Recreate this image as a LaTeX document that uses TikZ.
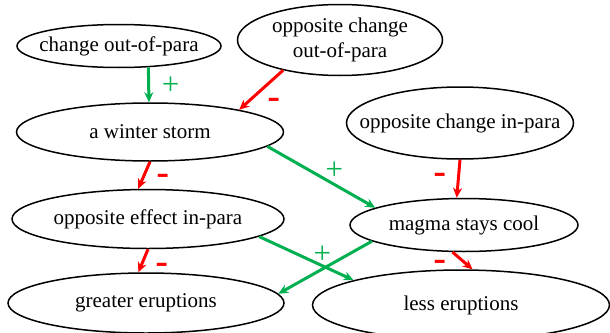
\documentclass[tikz,border=0pt]{standalone}
\usepackage{fontspec}
\setmainfont{Liberation Serif}
\setsansfont{Liberation Sans}
\usepackage{tikz}
\usetikzlibrary{shapes.geometric, arrows.meta}
\definecolor{posgreen}{RGB}{0,176,80}
\definecolor{negred}{RGB}{255,0,0}

\begin{document}
\begin{tikzpicture}[x=1pt,y=-1pt,->,>={Stealth[length=10pt,width=9pt]},
                    main node/.style={ellipse,draw,-,line width=1.5pt,inner xsep=-3em,inner ysep=0pt,
                                      align=center,font=\fontsize{21}{25}\selectfont},
                    pos edge/.style={draw=posgreen,line width=3pt},
                    neg edge/.style={draw=negred,line width=3pt},
                    plus/.style={text=posgreen,font=\fontsize{31}{31}\selectfont,inner sep=0pt},
                    minus/.style={text=negred,font=\fontsize{40}{40}\sffamily,inner sep=0pt}]

  \useasboundingbox (0,0) rectangle (610,332);

  \node[main node,minimum width=204pt,minimum height=43pt] (coop) at (119,46) {change out-of-para};
  \node[main node,minimum width=205pt,minimum height=71pt] (ocoop) at (340,40) {opposite change\\out-of-para};
  \node[main node,minimum width=267pt,minimum height=58pt] (ws) at (150,132) {a winter storm};
  \node[main node,minimum width=227pt,minimum height=72pt] (ocip) at (460,123) {opposite change in-para};
  \node[main node,minimum width=272pt,minimum height=59pt] (oeip) at (148,219) {opposite effect in-para};
  \node[main node,minimum width=228pt,minimum height=53pt] (msc) at (464,225) {magma stays cool};
  \node[main node,minimum width=276pt,minimum height=60pt] (ge) at (146,303) {greater eruptions};
  \node[main node,minimum width=297pt,minimum height=70pt] (le) at (461,305) {less eruptions};

  % + and - sit beside each arrow
  \path
    (coop.-36) edge[pos edge] node[plus,xshift=22pt,yshift=-1pt] {+} (ws.92)
    (ocoop.208) edge[neg edge] node[minus,xshift=13pt,yshift=-14pt] {-} (ws.14)
    (ws.-90) edge[neg edge] node[minus,xshift=19pt,yshift=-5pt] {-} (oeip.108)
    (ws.-7) edge[pos edge] node[plus,xshift=13pt,yshift=6pt] {+} (msc.169)
    (ocip.-90) edge[neg edge] node[minus,xshift=-18pt,yshift=-1pt] {-} (msc.105)
    (oeip.-90) edge[neg edge] node[minus,xshift=19pt,yshift=-9pt] {-} (ge.104)
    (oeip.-9) edge[pos edge] node[plus,xshift=16pt,yshift=4pt] {+} (le.167)
    (msc.190) edge[pos edge] (ge.4)
    (msc.247) edge[neg edge] node[minus,xshift=-22pt,yshift=-6pt] {-} (le.72)
    ;
\end{tikzpicture}
\end{document}
